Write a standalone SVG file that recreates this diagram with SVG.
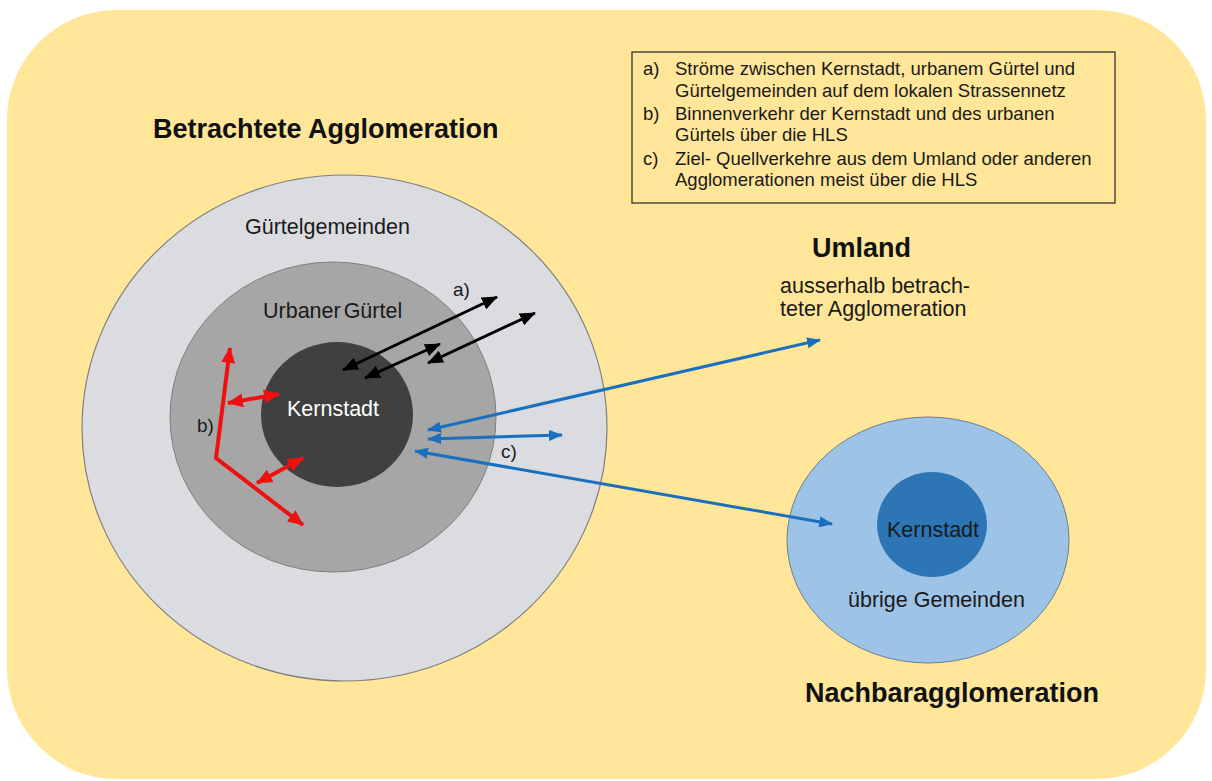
<svg xmlns="http://www.w3.org/2000/svg" width="1212" height="781" viewBox="0 0 1212 781">
<defs>
<style>
text{font-family:"Liberation Sans",Arial,sans-serif;fill:#1a1a1a}
.title{font-size:27px;font-weight:bold;fill:#111}
.lbl{font-size:21.5px}
.leg{font-size:18.5px}
.tag{font-size:19px}
.blk{stroke:#000;stroke-width:3;fill:none;marker-start:url(#mb);marker-end:url(#mb)}
.red{stroke:#f01010;stroke-width:4;fill:none;stroke-linejoin:miter}
.blu{stroke:#1a70bf;stroke-width:3;fill:none;marker-start:url(#mu);marker-end:url(#mu)}
</style>
<marker id="mb" markerUnits="userSpaceOnUse" markerWidth="16" markerHeight="13" refX="15" refY="6.5" orient="auto-start-reverse" viewBox="0 0 16 13"><path d="M0,0 L16,6.5 L0,13 z" fill="#000"/></marker>
<marker id="mr" markerUnits="userSpaceOnUse" markerWidth="16" markerHeight="14" refX="15" refY="7" orient="auto-start-reverse" viewBox="0 0 16 14"><path d="M0,0 L16,7 L0,14 z" fill="#f01010"/></marker>
<marker id="mu" markerUnits="userSpaceOnUse" markerWidth="14" markerHeight="11" refX="13" refY="5.5" orient="auto-start-reverse" viewBox="0 0 14 11"><path d="M0,0 L14,5.5 L0,11 z" fill="#1a70bf"/></marker>
</defs>
<rect x="0" y="0" width="1212" height="781" fill="#ffffff"/>
<rect id="background" x="7" y="10" width="1199" height="769" rx="110" ry="110" fill="#ffe699"/>

<g id="legend">
<rect x="632" y="52" width="483" height="151" fill="none" stroke="#333" stroke-width="1.3"/>
<text class="leg" x="643" y="75">a)</text>
<text class="leg" x="675" y="75">Ströme zwischen Kernstadt, urbanem Gürtel und</text>
<text class="leg" x="675" y="97">Gürtelgemeinden auf dem lokalen Strassennetz</text>
<text class="leg" x="643" y="120">b)</text>
<text class="leg" x="675" y="120">Binnenverkehr der Kernstadt und des urbanen</text>
<text class="leg" x="675" y="141">Gürtels über die HLS</text>
<text class="leg" x="643" y="165">c)</text>
<text class="leg" x="675" y="165">Ziel- Quellverkehre aus dem Umland oder anderen</text>
<text class="leg" x="675" y="186">Agglomerationen meist über die HLS</text>
</g>

<g id="title-betrachtete">
<text class="title" x="153" y="138">Betrachtete Agglomeration</text>
</g>

<g id="guertelgemeinden">
<ellipse cx="344.5" cy="428" rx="262.5" ry="253" fill="#dadce0" stroke="#7f7f7f" stroke-width="1.2"/>
<text class="lbl" x="245" y="234">Gürtelgemeinden</text>
</g>

<g id="urbaner-guertel">
<ellipse cx="333" cy="417" rx="163" ry="155" fill="#a6a6a6" stroke="#7f7f7f" stroke-width="1"/>
<text class="lbl" x="263" y="318" word-spacing="-3">Urbaner Gürtel</text>
</g>

<g id="kernstadt">
<ellipse cx="337" cy="414.5" rx="76" ry="72.5" fill="#404040"/>
<text class="lbl" x="287" y="416" style="fill:#fff">Kernstadt</text>
</g>

<g id="umland">
<text class="title" x="812" y="257">Umland</text>
<text class="lbl" x="780" y="293">ausserhalb betrach-</text>
<text class="lbl" x="780" y="316">teter Agglomeration</text>
</g>

<g id="nachbaragglomeration">
<ellipse cx="928" cy="540" rx="141" ry="123" fill="#9dc3e6" stroke="#6f7f8f" stroke-width="1"/>
<ellipse cx="932" cy="524.5" rx="55" ry="52.5" fill="#2e75b6"/>
<text class="lbl" x="887" y="537">Kernstadt</text>
<text class="lbl" x="848" y="607">übrige Gemeinden</text>
<text class="title" x="805" y="702">Nachbaragglomeration</text>
</g>

<g id="connectors">
<line class="blk" x1="343" y1="370" x2="497" y2="297"/>
<line class="blk" x1="365" y1="378" x2="440" y2="344"/>
<line class="blk" x1="428" y1="363" x2="535" y2="313"/>
<polyline class="red" points="230,348 216,458 303,525" marker-start="url(#mr)" marker-end="url(#mr)"/>
<line class="red" x1="228" y1="403" x2="279" y2="394" marker-start="url(#mr)" marker-end="url(#mr)"/>
<line class="red" x1="257" y1="483" x2="303" y2="458" marker-start="url(#mr)" marker-end="url(#mr)"/>
<line class="blu" x1="428" y1="430" x2="820" y2="340"/>
<line class="blu" x1="428" y1="439" x2="562" y2="435"/>
<line class="blu" x1="415" y1="451" x2="832" y2="524"/>
</g>

<g id="labels-abc">
<text class="tag" x="453" y="296">a)</text>
<text class="tag" x="197" y="432">b)</text>
<text class="tag" x="501" y="458">c)</text>
</g>
</svg>
